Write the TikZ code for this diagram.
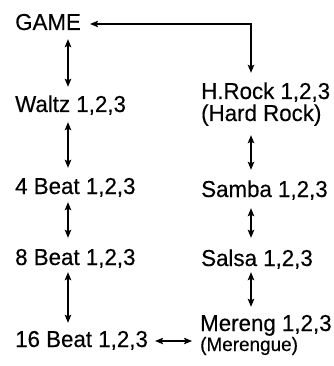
\documentclass[tikz,border=0pt]{standalone}
\usepackage{fontspec}
\setmainfont{Liberation Sans}[FakeStretch=0.97,FakeBold=0.3]
\usetikzlibrary{arrows.meta}
\begin{document}
\begin{tikzpicture}[x=1pt,y=-1pt,
  lbl/.style={anchor=base west,inner sep=0pt,font=\fontsize{23}{27}\selectfont,text height=17pt,text depth=5pt},
  sml/.style={anchor=base west,inner sep=0pt,font=\fontsize{19.5}{23}\selectfont,text height=12pt,text depth=4pt},
  dar/.style={line width=1.1pt,{Stealth[length=8pt,width=6.5pt,inset=1.5pt]}-{Stealth[length=8pt,width=6.5pt,inset=1.5pt]}}]
\useasboundingbox (0,0) rectangle (333,366);
\coordinate (cl) at (68,0);
\coordinate (cr) at (251,0);
\node[lbl] (game) at (15,30) {GAME};
\node[lbl] (waltz) at (15,112) {Waltz 1,2,3};
\node[lbl] (b4) at (15,194) {4 Beat 1,2,3};
\node[lbl] (b8) at (15,265) {8 Beat 1,2,3};
\node[lbl] (b16) at (15,347) {16 Beat 1,2,3};
\node[lbl] (hrock) at (201,99) {H.Rock 1,2,3};
\node[lbl] (hrock2) at (201,121) {(Hard Rock)};
\node[lbl] (samba) at (201,197) {Samba 1,2,3};
\node[lbl] (salsa) at (201,266) {Salsa 1,2,3};
\node[lbl,text depth=3pt] (mereng) at (200,331) {Mereng 1,2,3};
\node[sml] (mereng2) at (200,351) {(Merengue)};
\draw[dar,shorten <=4pt,shorten >=8pt] (game.south -| cl) -- (waltz.north -| cl);
\draw[dar,shorten <=5pt,shorten >=9pt] (waltz.south -| cl) -- (b4.north -| cl);
\draw[dar,shorten <=3pt,shorten >=10pt] (b4.south -| cl) -- (b8.north -| cl);
\draw[dar,shorten <=2pt,shorten >=7pt] (b8.south -| cl) -- (b16.north -| cl);
\draw[dar,shorten >=9pt] ([xshift=9pt]game.east) -| (hrock.north -| cr);
\draw[dar,shorten <=9pt,shorten >=10pt] (hrock2.south -| cr) -- (samba.north -| cr);
\draw[dar,shorten <=6pt,shorten >=11pt] (samba.south -| cr) -- (salsa.north -| cr);
\draw[dar,shorten <=1pt,shorten >=7pt] (salsa.south -| cr) -- (mereng.north -| cr);
\draw[dar,shorten <=7pt,shorten >=8pt] (b16.east) -- (b16.east -| mereng.west);
\end{tikzpicture}
\end{document}
